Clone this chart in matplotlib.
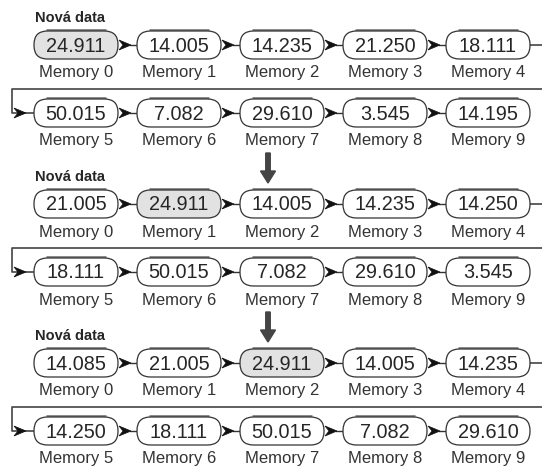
import matplotlib
matplotlib.use("Agg")
import matplotlib.pyplot as plt
from matplotlib.patches import FancyBboxPatch, Polygon, FancyArrow

plt.rcParams['font.family'] = ['Liberation Sans', 'DejaVu Sans']

# ---- data ----
memory_labels = [f"Memory {i}" for i in range(10)]
state0_values = [24.911, 14.005, 14.235, 21.250, 18.111, 50.015, 7.082, 29.610, 3.545, 14.195]
state1_values = [21.005, 24.911, 14.005, 14.235, 14.250, 18.111, 50.015, 7.082, 29.610, 3.545]
state2_values = [14.085, 21.005, 24.911, 14.005, 14.235, 14.250, 18.111, 50.015, 7.082, 29.610]
highlight_idx = [0, 1, 2]
header_text = "Nová data"

states = [state0_values, state1_values, state2_values]

# ---- layout (pixel coords) ----
W, H = 542, 468
fig = plt.figure(figsize=(W / 100, H / 100), dpi=100)
ax = fig.add_axes([0, 0, 1, 1])
ax.set_xlim(0, W)
ax.set_ylim(H, 0)
ax.axis('off')

x0 = 34
pitch = 103
bw = 84
bh = 28
block_pitch = 159
row1_y0 = 45
row_gap = 68
edge = '#333333'
txt = '#262626'


def draw_box(xl, yc, val, hl):
    p = FancyBboxPatch((xl, yc - bh / 2), bw, bh,
                       boxstyle="round,pad=0,rounding_size=13.5",
                       fc='#e2e2e2' if hl else 'white', ec=edge, lw=0.9, zorder=3)
    ax.add_patch(p)
    # darker top "shadow" edge
    ax.plot([xl + 12, xl + bw - 12], [yc - bh / 2 - 0.8, yc - bh / 2 - 0.8],
            color='#808080', lw=2.0, zorder=2, solid_capstyle='butt')
    ax.text(xl + bw / 2, yc + 1, f"{val:.3f}", ha='center', va='center',
            fontsize=14.3, color=txt, zorder=4)


def arrow_head(xs, yc):
    L = 12
    h = 5
    poly = Polygon([(xs, yc - h), (xs + L, yc), (xs, yc + h), (xs + 4, yc)],
                   closed=True, fc='#111111', ec='#111111', lw=0.5, zorder=4)
    ax.add_patch(poly)
    return xs + L


for b, vals in enumerate(states):
    y1 = row1_y0 + b * block_pitch
    y2 = y1 + row_gap
    yline = y1 + 44
    ax.text(35, y1 - 27, header_text, ha='left', va='center', fontsize=10.5,
            fontweight='semibold', color=txt)
    for i, v in enumerate(vals):
        row = i // 5
        col = i % 5
        xl = x0 + col * pitch
        yc = y1 if row == 0 else y2
        draw_box(xl, yc, v, i == highlight_idx[b])
        ax.text(xl + bw / 2, yc + 28, memory_labels[i], ha='center', va='center',
                fontsize=12, color='#333333')
        if col < 4:
            xs = xl + bw
            xe = arrow_head(xs + 1, yc)
            ax.plot([xe - 1, xl + pitch], [yc, yc], color=edge, lw=1.0, zorder=2)
    # wrap connector
    xr = x0 + 4 * pitch + bw
    ax.plot([xr, W + 5, W + 5, 12, 12, x0], [y1, y1, yline, yline, y2, y2],
            color='#444444', lw=1.2, zorder=2, clip_on=False)
    arrow_head(14, y2)
    # down arrow between blocks
    if b < 2:
        ya = y2 + 40
        ax.add_patch(FancyArrow(268, ya, 0, 30, width=4.5, head_width=15,
                                head_length=12, length_includes_head=True,
                                fc='#444444', ec='#444444', zorder=4))

fig.savefig('out.png', dpi=100)
